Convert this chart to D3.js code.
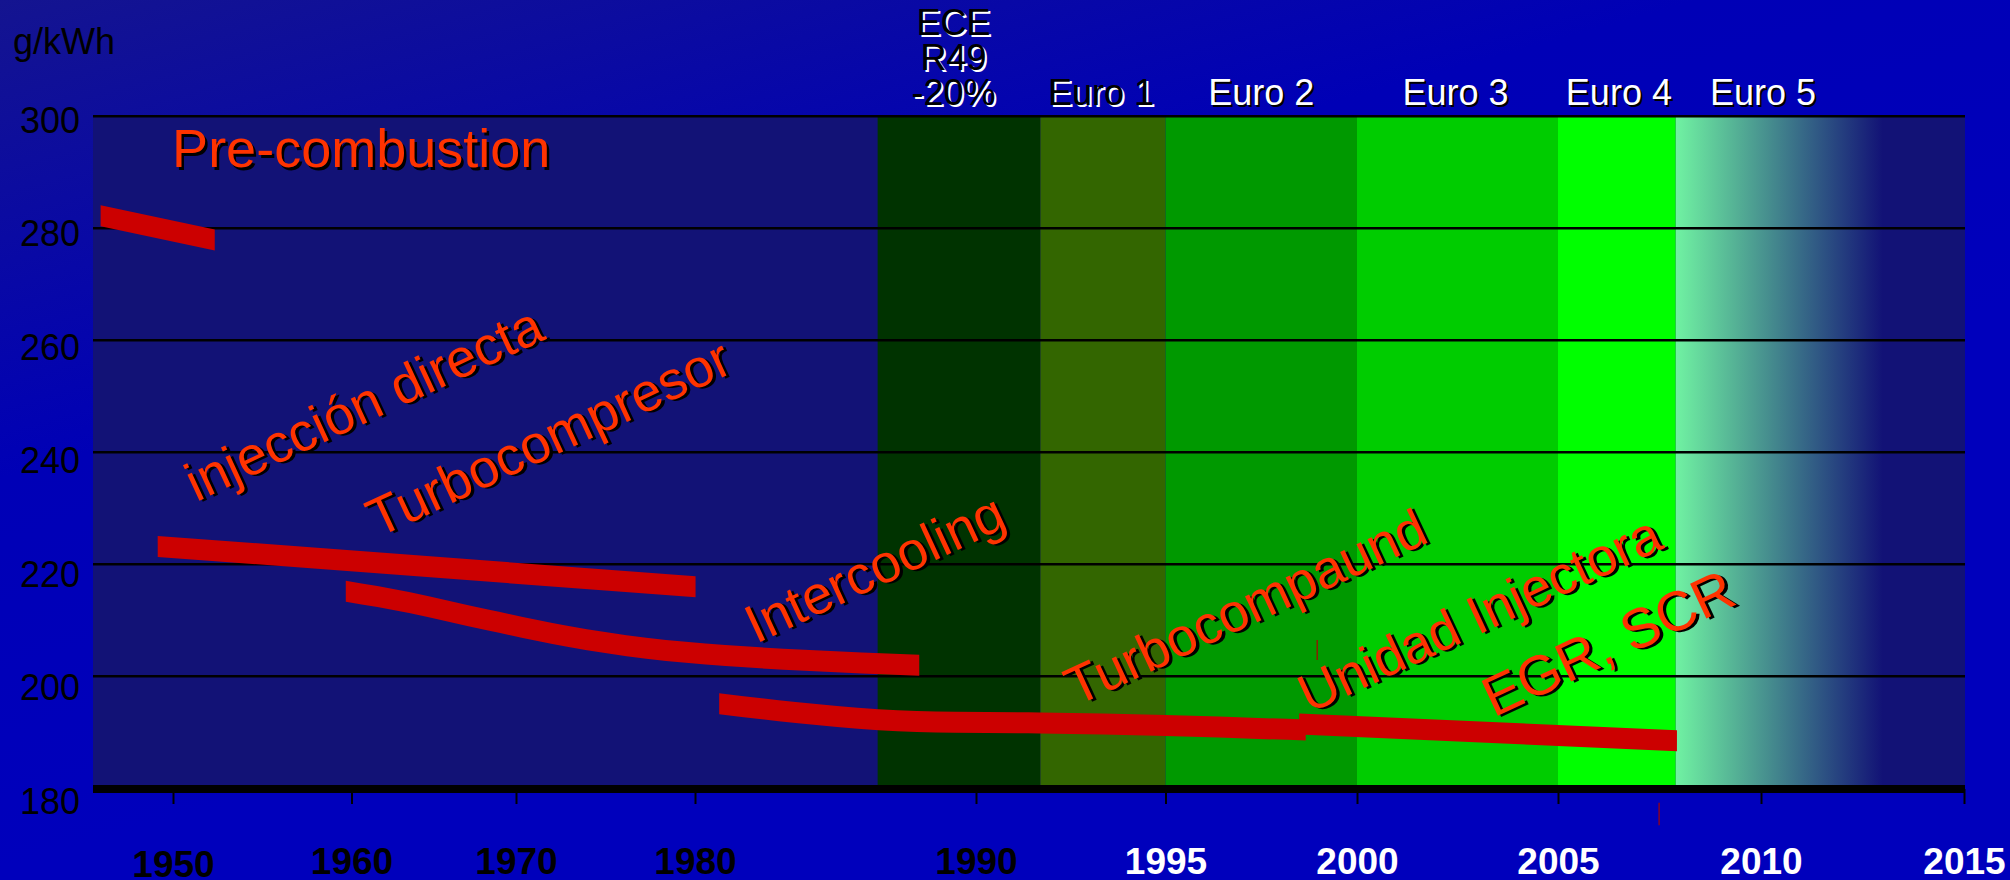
<!DOCTYPE html>
<html>
<head>
<meta charset="utf-8">
<script src="https://cdn.jsdelivr.net/npm/d3@7"></script>
<style>
  html, body { margin: 0; padding: 0; background: #0000b8; }
  svg { display: block; }
  text { font-family: "Liberation Sans", Arial, sans-serif; }
</style>
</head>
<body>
<svg id="chart" width="2010" height="880"></svg>
<script>
// ---------------- data ----------------
const yTicks = [180, 200, 220, 240, 260, 280, 300];
const yUnit = "g/kWh";
const xTickYears = [1950, 1960, 1970, 1980, 1990, 1995, 2000, 2005, 2010, 2015];
const xTickLabels = ["1950", "1960", "1970", "1980", "1990", "1995", "2000", "2005", "2010", "2015"];

// emission standard periods (years)
const bandNames = [["ECE", "R49", "-20%"], ["Euro 1"], ["Euro 2"], ["Euro 3"], ["Euro 4"], ["Euro 5"]];
const bandStart = [1986.5, 1991.7, 1995, 2000, 2005, 2007.9];
const bandEnd = [1991.7, 1995, 2000, 2005, 2007.9, 2013.0];
const bandLabelYear = [1989.2, 1993.3, 1997.5, 2002.45, 2006.5, 2010.05];

// specific fuel consumption trend segments: [year, g/kWh]
const trendPreCombustion = [[1945.93, 282.25], [1952.34, 277.9]];
const trendDirectInjection = [[1949.14, 223.2], [1980.02, 216.0]];
const trendTurbo = [[1959.68, 215.2], [1963.5, 213.2], [1968.3, 210.05], [1972.86, 207.16],
                    [1977.28, 205.0], [1981.08, 203.7], [1983.9, 202.86], [1987.98, 201.96]];
const trendIntercooling = [[1980.86, 195.1], [1983.58, 193.54], [1986.53, 192.25], [1989.26, 191.8],
                           [1991.69, 191.66], [1995.0, 191.2], [1998.66, 190.4]];
const trendUnitInjector = [[1998.49, 191.5], [2007.93, 188.5]];

// technology labels, anchored at [year, g/kWh] (start of baseline)
const techLabels = ["Pre-combustion", "injección directa", "Turbocompresor", "Intercooling",
                    "Turbocompaund", "Unidad Injectora", "EGR, SCR"];
const techLabelYear = [1949.95, 1951.3, 1961.6, 1982.17, 1992.64, 1998.75, 2003.4];
const techLabelValue = [290.9, 231.1, 224.7, 205.77, 194.6, 193.3, 192.6];

// small stray marks: [year, from, to]
const strayMarks = [[1998.96, 206.5, 202.9], [2007.49, 177.4, 173.4]];

// ---------------- layout ----------------
const svg = d3.select("#chart");
const xPixels = [93, 173, 351.5, 516, 695, 976, 1165.5, 1357, 1558, 1761, 1964];
const xScale = d3.scaleLinear().domain([1945.5, ...xTickYears]).range(xPixels);
const yScale = d3.scaleLinear().domain([180, 300]).range([788.3, 116.3]);
const plotLeft = xScale(1945.5), plotRight = xScale(2015) + 1;

const bandFill = ["#003300", "#336600", "#009900", "#00cc00", "#00ff00", "url(#euro5)"];
const navy = "#121276";

const defs = svg.append("defs");
const bg = defs.append("linearGradient").attr("id", "bg")
  .attr("x1", 0).attr("y1", 0).attr("x2", 0.45).attr("y2", 0.7);
bg.append("stop").attr("offset", 0).attr("stop-color", "#141490");
bg.append("stop").attr("offset", 0.55).attr("stop-color", "#0000b6");
bg.append("stop").attr("offset", 1).attr("stop-color", "#0000bc");

const e5 = defs.append("linearGradient").attr("id", "euro5")
  .attr("gradientUnits", "userSpaceOnUse")
  .attr("x1", xScale(bandStart[5])).attr("x2", xScale(bandEnd[5]))
  .attr("y1", 0).attr("y2", 0);
e5.append("stop").attr("offset", 0).attr("stop-color", "#70f2a2");
e5.append("stop").attr("offset", 1).attr("stop-color", navy);

svg.append("rect").attr("width", 2010).attr("height", 880).attr("fill", "url(#bg)");

// plot area
svg.append("rect")
  .attr("x", plotLeft).attr("y", yScale(300))
  .attr("width", plotRight - plotLeft).attr("height", yScale(180) - yScale(300))
  .attr("fill", navy);

// regulation bands
svg.append("g").selectAll("rect").data(bandStart).join("rect")
  .attr("x", (d, i) => xScale(d))
  .attr("width", (d, i) => xScale(bandEnd[i]) - xScale(d))
  .attr("y", yScale(300))
  .attr("height", yScale(180) - yScale(300))
  .attr("fill", (d, i) => bandFill[i]);

// gridlines
svg.append("g").selectAll("line").data(yTicks.filter(v => v > 180)).join("line")
  .attr("x1", plotLeft).attr("x2", plotRight)
  .attr("y1", d => yScale(d)).attr("y2", d => yScale(d))
  .attr("stroke", "#000").attr("stroke-width", 2.5);

// band titles (dark text with light shadow on the first two, light text with dark shadow after)
const bandTitle = svg.append("g");
bandNames.forEach((lines, i) => {
  const cx = xScale(bandLabelYear[i]);
  const dark = i < 2;
  const baseY = 105 - (lines.length - 1) * 35;
  [[2, 2, dark ? "#ffffff" : "#000000"], [0, 0, dark ? "#000000" : "#ffffff"]].forEach(([dx, dy, col]) => {
    lines.forEach((t, k) => {
      bandTitle.append("text")
        .attr("x", cx + dx).attr("y", baseY + k * 35 + dy)
        .attr("text-anchor", "middle")
        .attr("font-size", 36)
        .attr("fill", col)
        .text(t);
    });
  });
});

// y axis labels
const yAxis = svg.append("g").attr("transform", `translate(${plotLeft},0)`)
  .call(d3.axisLeft(yScale).tickValues(yTicks).tickSize(0).tickPadding(13));
yAxis.select(".domain").remove();
yAxis.selectAll("text")
  .attr("font-family", "Liberation Sans, Arial, sans-serif")
  .attr("font-size", 36).attr("fill", "#000")
  .attr("dy", 0).attr("y", d => 16 + (300 - d) * 0.075);

svg.append("text").attr("x", 13).attr("y", 54)
  .attr("font-size", 36).attr("fill", "#000").text(yUnit);

// x axis
const xAxis = svg.append("g").attr("transform", "translate(0,789)")
  .call(d3.axisBottom(xScale).tickValues(xTickYears)
    .tickFormat((d, i) => xTickLabels[i]).tickSize(15).tickSizeOuter(0).tickPadding(0));
xAxis.select(".domain").attr("stroke", "#000").attr("stroke-width", 8)
  .attr("d", `M${plotLeft},0H${plotRight}`);
xAxis.selectAll(".tick line").attr("stroke", "#000").attr("stroke-width", 2);
xAxis.selectAll(".tick text")
  .attr("font-family", "Liberation Sans, Arial, sans-serif")
  .attr("font-size", 37).attr("font-weight", "bold")
  .attr("dy", 0)
  .attr("y", d => d === 1950 ? 88 : 85)
  .attr("fill", d => d <= 1990 ? "#000" : "#fff");

// trend ribbons (constant vertical thickness, vertical ends)
const ribbon = d3.area()
  .x(d => xScale(d[0]))
  .y0(d => yScale(d[1]) - 10.5)
  .y1(d => yScale(d[1]) + 10.5)
  .curve(d3.curveMonotoneX);
svg.append("g").selectAll("path")
  .data([trendPreCombustion, trendDirectInjection, trendTurbo, trendIntercooling, trendUnitInjector])
  .join("path")
  .attr("d", ribbon)
  .attr("fill", "#cc0000");

// stray marks
svg.append("g").selectAll("line").data(strayMarks).join("line")
  .attr("x1", d => xScale(d[0])).attr("x2", d => xScale(d[0]))
  .attr("y1", d => yScale(d[1])).attr("y2", d => yScale(d[2]))
  .attr("stroke", "#aa0000").attr("stroke-width", 1.2);

// technology labels with drop shadow
const tech = svg.append("g");
techLabels.forEach((t, i) => {
  const px = xScale(techLabelYear[i]), py = yScale(techLabelValue[i]);
  const angle = i === 0 ? 0 : -25;
  const size = i === 6 ? 56 : 54;
  const g = tech.append("g").attr("transform", `translate(${px},${py}) rotate(${angle})`);
  g.append("text").attr("x", 2.5).attr("y", 2.5)
    .attr("font-size", size).attr("fill", "#000").text(t);
  g.append("text").attr("x", 0).attr("y", 0)
    .attr("font-size", size).attr("fill", "#ff3300").text(t);
});
</script>
</body>
</html>
